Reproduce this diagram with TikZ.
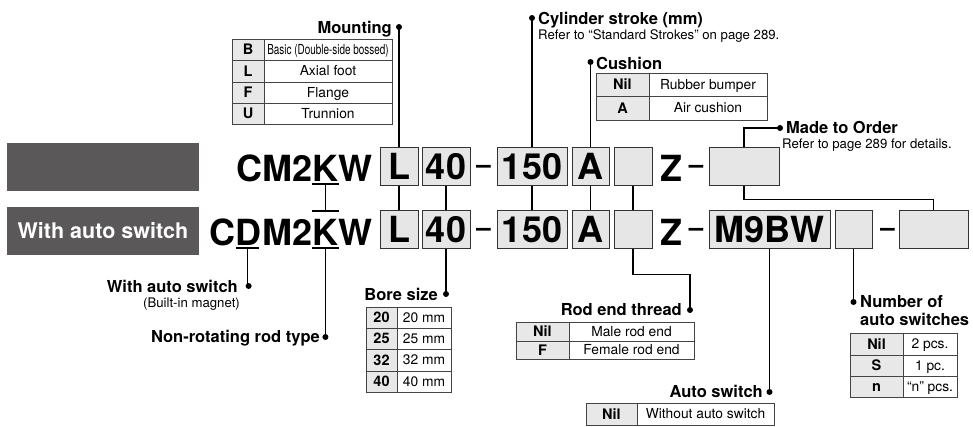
\documentclass[tikz,border=0pt]{standalone}
\usepackage{fontspec}
\setmainfont{TeX Gyre Heros}
\usepackage{graphicx}
\definecolor{boxfill}{HTML}{E6E6E6}
\definecolor{keyfill}{HTML}{E8E8E8}
\definecolor{boxline}{HTML}{333333}
\definecolor{tabline}{HTML}{444444}
\definecolor{darkrect}{HTML}{5A5858}
\newcommand\trow[8]{%
  \draw[tline,fill=keyfill] (#2,#5) rectangle (#3,#6);
  \draw[tline,fill=white] (#3,#5) rectangle (#4,#6);
  \node[keytxt] (#1k) at ({(#2+#3)/2},{(#5+#6)/2}) {#7};
  \node[desctxt] (#1d) at ({(#3+#4)/2},{(#5+#6)/2}) {#8};}
\begin{document}
\begin{tikzpicture}[x=1pt,y=-1pt,
  big/.style={font=\fontsize{36}{36}\selectfont\bfseries, inner sep=0pt},
  codebox/.style={draw=boxline, line width=1pt, fill=boxfill, minimum height=38pt,
     inner sep=0pt, text height=26pt, text depth=0pt, font=\fontsize{36}{36}\selectfont\bfseries},
  dashtxt/.style={font=\fontsize{26}{26}\selectfont\bfseries, inner sep=0pt},
  head/.style={font=\fontsize{16.5}{18}\selectfont\bfseries, inner sep=0pt},
  note/.style={font=\fontsize{13.2}{15}\selectfont, inner sep=0pt},
  conn/.style={line width=1.3pt, black},
  tline/.style={draw=tabline, line width=0.9pt},
  keytxt/.style={font=\fontsize{14.5}{15}\selectfont\bfseries, inner sep=0pt, text height=10.4pt, text depth=0pt},
  desctxt/.style={font=\fontsize{13.8}{15}\selectfont, inner sep=0pt, text height=9.9pt, text depth=0pt},
  dot/.style={fill=black}
]
\useasboundingbox (0,0) rectangle (973,426);

% gray label rectangles
\node[fill=darkrect, minimum width=192pt, minimum height=48pt, inner sep=0pt] (std) at (103,167) {};
\node[fill=darkrect, minimum width=192pt, minimum height=48pt, inner sep=0pt, text=white,
      font=\fontsize{21.5}{22}\selectfont\bfseries] (sw) at (103,231) {With auto switch};

% ---------- row 1 ----------
\node[big, anchor=base east] (w1) at (373,181) {W};
\node[big, anchor=base east] (k1) at (w1.base west) {K};
\node[big, anchor=base east] (c1) at (k1.base west) {CM2};
\node[codebox, minimum width=38pt] (L1) at (399,166) {L};
\node[codebox, minimum width=48pt] (b1) at (446,166) {40};
\node[dashtxt, anchor=base] (d1a) at (483.5,173) {–};
\node[codebox, minimum width=70pt] (s1) at (532,166) {150};
\node[codebox, minimum width=37pt] (a1) at (590.5,166) {A};
\node[codebox, minimum width=38pt] (e1) at (633,166) {};
\node[big, anchor=base] (z1) at (671,181) {Z};
\node[dashtxt, anchor=base] (d1b) at (696,173) {–};
\node[codebox, minimum width=70pt] (m1) at (744,166) {};

% ---------- row 2 ----------
\node[big, anchor=base east] (w2) at (373,245) {W};
\node[big, anchor=base east] (k2) at (w2.base west) {K};
\node[big, anchor=base east] (m22) at (k2.base west) {M2};
\node[big, anchor=base east] (dd2) at (m22.base west) {D};
\node[big, anchor=base east] (c2) at (dd2.base west) {C};
\node[codebox, minimum width=38pt] (L2) at (399,229) {L};
\node[codebox, minimum width=48pt] (b2) at (446,229) {40};
\node[dashtxt, anchor=base] (d2a) at (483.5,236) {–};
\node[codebox, minimum width=70pt] (s2) at (532,229) {150};
\node[codebox, minimum width=37pt] (a2) at (590.5,229) {A};
\node[codebox, minimum width=38pt] (e2) at (633,229) {};
\node[big, anchor=base] (z2) at (671,245) {Z};
\node[dashtxt, anchor=base] (d2b) at (696,236) {–};
\node[codebox, minimum width=121pt] (sw2) at (769.5,229) {M9BW};
\node[codebox, minimum width=37pt] (n2) at (853.5,229) {};
\node[dashtxt, anchor=base] (d2c) at (887.5,236) {–};
\node[codebox, minimum width=69pt] (o2) at (933.5,229) {};

% ---------- dots ----------
\coordinate (mdot) at (399,27);
\coordinate (cdot) at (532,18);
\coordinate (udot) at (590.5,62);
\coordinate (odot) at (780,128);
\coordinate (bdot) at (446,294);
\coordinate (rdot) at (690,310);
\coordinate (adot) at (769.5,392);
\coordinate (ndot) at (853.5,302);
\coordinate (wdot) at (dd2.base |- 0,286);
\coordinate (kdot) at (k2.base |- 0,337);
\foreach \p in {mdot,cdot,udot,odot,bdot,rdot,adot,ndot,wdot,kdot}
  \fill[dot] (\p) circle (3pt);

% ---------- connectors ----------
\draw[conn] (mdot) -- (L1.north);
\draw[conn] (L1.south) -- (L2.north);
\draw[conn] (b1.south) -- (b2.north);
\draw[conn] (b2.south) -- (bdot);
\draw[conn] (cdot) -- (s1.north);
\draw[conn] (s1.south) -- (s2.north);
\draw[conn] (udot) -- (a1.north);
\draw[conn] (a1.south) -- (a2.north);
\draw[conn] (e1.south) -- (e2.north);
\draw[conn] (e2.south) -- ++(0,26) -| (rdot);
\draw[conn] (m1.north) |- (odot);
\draw[conn] (m1.south) -- ++(0,14) -| (o2.north);
\draw[conn] (sw2.south) -- (adot);
\draw[conn] (n2.south) -- (ndot);
% K / D markers
\draw[conn] ([yshift=-3pt]k1.base west) -- ([yshift=-3pt]k1.base east);
\draw[conn] ([yshift=34pt]k2.base west) -- ([yshift=34pt]k2.base east);
\draw[conn] ([yshift=-3pt]k1.base) -- ([yshift=34pt]k2.base);
\draw[conn] ([yshift=-3pt]k2.base west) -- ([yshift=-3pt]k2.base east);
\draw[conn] ([yshift=-3pt]k2.base) -- (kdot);
\draw[conn] ([yshift=-3pt,xshift=1pt]dd2.base west) -- ([yshift=-3pt,xshift=-3pt]dd2.base east);
\draw[conn] ([yshift=-3pt,xshift=-1pt]dd2.base) -- ([xshift=-1pt]wdot);

% ---------- headings ----------
\node[head, anchor=base east] (hm) at (392,33) {Mounting};
\node[head, anchor=base west] (hc) at (538,24) {Cylinder stroke (mm)};
\node[note, anchor=base west] (hcn) at (538,39) {Refer to “Standard Strokes” on page 289.};
\node[head, anchor=base west] (hu) at (596,69) {Cushion};
\node[head, anchor=base west] (ho) at (786,133) {Made to Order};
\node[note, anchor=base west] (hon) at (782,148) {Refer to page 289 for details.};
\node[head, anchor=base east] (hw) at (238,292) {With auto switch};
\node[note, anchor=base east] (hwn) at (240,307) {(Built-in magnet)};
\node[head, anchor=base east] (hk) at (320,342) {Non-rotating rod type};
\node[head, anchor=base east] (hb) at (438,300) {Bore size};
\node[head, anchor=base east] (hr) at (682,315) {Rod end thread};
\node[head, anchor=base east] (ha) at (763,397) {Auto switch};
\node[head, anchor=base west] (hn1) at (860,307) {Number of};
\node[head, anchor=base west] (hn2) at (860,325) {auto switches};

% ---------- tables ----------
\trow{mt1}{232}{264}{392}{39}{60}{B}{\scalebox{0.72}[1]{Basic (Double-side bossed)}}
\trow{mt2}{232}{264}{392}{60}{82}{L}{Axial foot}
\trow{mt3}{232}{264}{392}{82}{103}{F}{Flange}
\trow{mt4}{232}{264}{392}{103}{124}{U}{Trunnion}

\trow{cu1}{596}{649}{767}{73}{96}{Nil}{Rubber bumper}
\trow{cu2}{596}{649}{767}{96}{120}{A}{Air cushion}

\trow{bo1}{366}{397}{451}{307}{328}{20}{20 mm}
\trow{bo2}{366}{397}{451}{328}{349}{25}{25 mm}
\trow{bo3}{366}{397}{451}{349}{371}{32}{32 mm}
\trow{bo4}{366}{397}{451}{371}{392}{40}{40 mm}

\trow{ro1}{516}{569}{694}{322}{341}{Nil}{Male rod end}
\trow{ro2}{516}{569}{694}{341}{359}{F}{Female rod end}

\trow{as1}{586}{637}{774}{403}{425}{Nil}{Without auto switch}

\trow{nu1}{850}{903}{957}{333}{355}{Nil}{2 pcs.}
\trow{nu2}{850}{903}{957}{355}{376}{S}{1 pc.}
\trow{nu3}{850}{903}{957}{376}{397}{n}{“n” pcs.}
\end{tikzpicture}
\end{document}
